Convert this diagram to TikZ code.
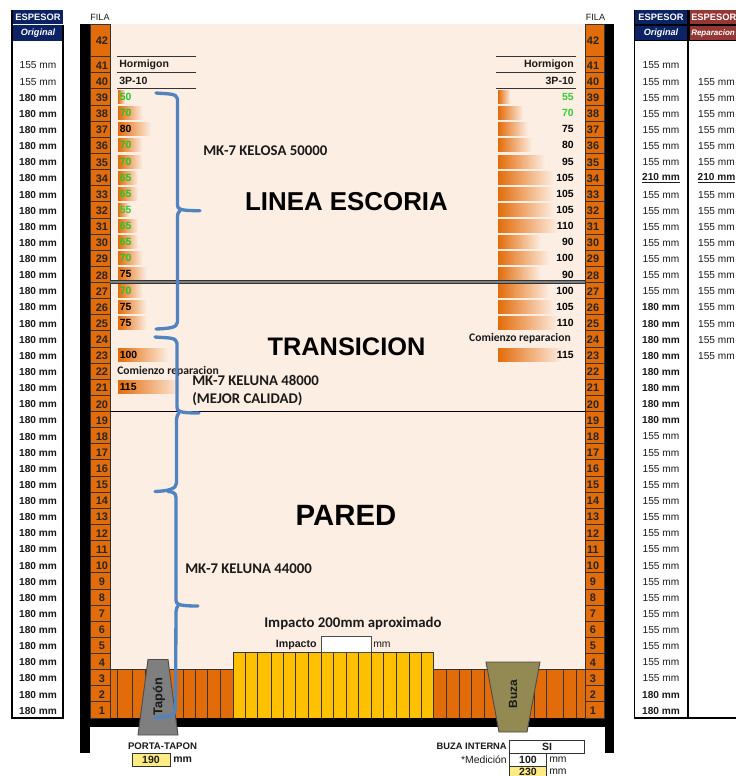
\documentclass[tikz,border=0pt]{standalone}
\usepackage{fontspec}
\setmainfont{Liberation Sans}
\newfontfamily\calib{Carlito}
\definecolor{peach}{HTML}{FDEEE3}
\definecolor{orng}{HTML}{E36C0A}
\definecolor{yell}{HTML}{FFC000}
\definecolor{navy}{HTML}{0B2264}
\definecolor{redh}{HTML}{953735}
\definecolor{bluebr}{HTML}{5083C0}
\definecolor{inbox}{HTML}{FFEB84}
\definecolor{grn}{HTML}{22C522}
\definecolor{lgrn}{HTML}{33CC33}
\definecolor{taupe}{HTML}{938953}
\definecolor{gry}{HTML}{7F7F7F}
\definecolor{ink}{HTML}{1A1A1A}
\tikzset{
  x=0.75pt,y=-0.75pt,
  cell/.style={draw=black!80,line width=0.7pt,fill=orng},
  rownum/.style={font=\fontsize{8.2}{8}\selectfont\bfseries,text=black!85,inner sep=0pt},
  thk/.style={font=\fontsize{7.6}{8}\selectfont,text=ink,inner sep=0pt},
  thkb/.style={font=\fontsize{7.6}{8}\selectfont\bfseries,text=ink,inner sep=0pt},
  hdr/.style={font=\fontsize{7}{8}\selectfont\bfseries,text=white,inner sep=0pt},
  hdri/.style={font=\fontsize{6.8}{8}\selectfont\bfseries\itshape,text=white,inner sep=0pt},
  val/.style={font=\fontsize{7.8}{8}\selectfont\bfseries,inner sep=0pt},
  smallb/.style={font=\fontsize{7.9}{8}\selectfont\bfseries,text=ink,inner sep=0pt},
  small/.style={font=\fontsize{7.8}{8}\selectfont,text=ink,inner sep=0pt},
  title/.style={font=\fontsize{19.4}{22}\selectfont\bfseries,text=black,inner sep=0pt},
  tag/.style={font=\calib\fontsize{11.1}{12}\selectfont\bfseries,text=ink,inner sep=0pt},
  comi/.style={font=\calib\fontsize{8.7}{9}\selectfont\bfseries,text=ink,inner sep=0pt},
  brace/.style={draw=bluebr,line width=2.5pt,line cap=round,line join=round},
  rule/.style={draw=black!80,line width=0.9pt},
  floorline/.style={draw=black!80,line width=0.7pt},
  tbl/.style={draw=black,line width=1.4pt},
}
\newcommand{\rowy}[1]{\pgfmathsetmacro\ry{97+(39-#1)*16.13}}
\newcommand{\txty}[1]{\pgfmathsetmacro\ty{97.8+(39-#1)*16.13}}
\begin{document}
\begin{tikzpicture}
\useasboundingbox (0,0) rectangle (736,776);
\clip (0,0) rectangle (736,776);
% interior
\fill[peach] (110,24) rectangle (585,669);
% floor
\fill[orng] (110,669) rectangle (233,718);
\fill[orng] (433,669) rectangle (585,718);
\fill[yell] (233,652) rectangle (433,718);
\draw[floorline] (110,669) -- (233,669) (433,669) -- (585,669);
\draw[floorline] (233,718) -- (233,652) -- (434,652);
\foreach \x in {117,132,145,183,195,207,220,446,459,471,484,534,546,563,576}
  \draw[floorline] (\x,669) -- (\x,718);
\foreach \x in {245,257,271,283,295,308,321,333,346,358,371,383,396,409,421,433}
  \draw[floorline] (\x,652) -- (\x,718);
% row columns
\fill[black] (80,24) rectangle (90,753);
\fill[black] (604.5,24) rectangle (614,753);
\fill[black] (80,718) rectangle (614,727);
\draw[cell] (90,24) rectangle (110,56.5);
\draw[cell] (585,24) rectangle (604,56.5);
\node[rownum] (ln42) at (102,41) {42};
\node[rownum] (rn42) at (593,41) {42};
\foreach \n in {1,...,41}{
  \rowy{\n}\txty{\n}
  \draw[cell] (90,\ry-8.06) rectangle (110,\ry+8.06);
  \draw[cell] (585,\ry-8.06) rectangle (604,\ry+8.06);
  \node[rownum] (ln\n) at (102,\ty) {\n};
  \node[rownum] (rn\n) at (593,\ty) {\n};
}
\node[small,font=\fontsize{6.8}{8}\selectfont] (filaL) at (100,17) {FILA};
\node[small,font=\fontsize{6.8}{8}\selectfont] (filaR) at (595.5,17) {FILA};
% left table
\fill[navy] (12,10) rectangle (63,24);
\fill[navy] (12,25) rectangle (63,41);
\draw[tbl] (12,10) -- (12,718) -- (63,718) -- (63,25);
\node[hdr] (espL) at (38,17) {ESPESOR};
\node[hdri] (oriL) at (38,33) {Original};
\foreach \n in {40,41}{\txty{\n}\node[thk] (tl\n) at (38,\ty) {155 mm};}
\foreach \n in {1,...,39}{\txty{\n}\node[thkb] (tl\n) at (38,\ty) {180 mm};}
% right table
\fill[black] (634,10) rectangle (736,41);
\fill[navy] (635,10) rectangle (687,24);
\fill[navy] (635,26) rectangle (687,40);
\fill[redh] (689.5,10) rectangle (736,24);
\fill[redh] (689.5,26) rectangle (736,40);
\draw[tbl] (634.5,10) -- (634.5,718) -- (736,718);
\draw[tbl] (687.8,41) -- (687.8,718);
\node[hdr] (espA) at (661,17) {ESPESOR};
\node[hdri] (oriA) at (661,33) {Original};
\node[hdr,anchor=west] (espB) at (691,17) {ESPESOR};
\node[hdri,font=\fontsize{6}{8}\selectfont\bfseries\itshape,anchor=west] (repB) at (691,33) {Reparacion};
% right table col A
\foreach \n in {3,...,18,27,28,...,33,35,36,...,41}{\txty{\n}\node[thk] (ta\n) at (661,\ty) {155 mm};}
\foreach \n in {1,2,19,20,...,26}{\txty{\n}\node[thkb] (ta\n) at (661,\ty) {180 mm};}
\txty{34}\node[thkb] (ta34) at (661,\ty) {\underline{210 mm}};
% right table col B
\foreach \n in {23,...,33,35,36,...,40}{\txty{\n}\node[thk] (tb\n) at (716.5,\ty) {155 mm};}
\txty{34}\node[thkb] (tb34) at (716.5,\ty) {\underline{210 mm}};
% header rules and Hormigon blocks
\draw[rule] (117,56.5) -- (196,56.5) (117,72.6) -- (196,72.6) (117,88.8) -- (196,88.8);
\draw[rule] (496,56.5) -- (576,56.5) (496,72.6) -- (576,72.6) (496,88.8) -- (576,88.8);
\rowy{41}\node[smallb,anchor=west] (hormL) at (119,\ry) {Hormigon};
\node[smallb,anchor=east] (hormR) at (574,\ry) {Hormigon};
\rowy{40}\node[smallb,anchor=west] (tpL) at (119,\ry) {3P-10};
\node[smallb,anchor=east] (tpR) at (574,\ry) {3P-10};
% left bars
\foreach \n/\v/\c in {39/50/grn,38/70/grn,37/80/black,36/70/grn,35/70/grn,34/65/grn,33/65/grn,32/55/lgrn,31/65/grn,30/65/grn,29/70/grn,28/75/black,27/70/grn,26/75/black,25/75/black,23/100/black,21/115/black}{
  \rowy{\n}
  \pgfmathsetmacro\w{0.87*(\v-42)}
  \shade[left color=orng,right color=peach] (118,\ry-6.5) rectangle (118+\w,\ry+6.5);
  \node[val,text=\c,anchor=west] (vl\n) at (119.5,\ry) {\v};
}
% right bars
\foreach \n/\v/\c in {39/55/lgrn,38/70/lgrn,37/75/black,36/80/black,35/95/black,34/105/black,33/105/black,32/105/black,31/110/black,30/90/black,29/100/black,28/90/black,27/100/black,26/105/black,25/110/black,23/115/black}{
  \rowy{\n}
  \pgfmathsetmacro\w{0.87*(\v-41)}
  \shade[left color=orng,right color=peach] (498,\ry-6.5) rectangle (498+\w,\ry+6.5);
  \node[val,text=\c,anchor=east] (vr\n) at (574,\ry) {\v};
}
% horizontal dividers
\draw[draw=black!80,line width=2.6pt] (110,282) -- (585,282);
\draw[draw=gry,line width=1.6pt] (110,282) -- (585,282);
\draw[draw=black,line width=1.2pt] (110,411.5) -- (585,411.5);
% labels
\rowy{22}\node[comi,anchor=west] (comL) at (117,\ry) {Comienzo reparacion};
\node[comi,anchor=east] (comR) at (571,338) {Comienzo reparacion};
\node[title] (linea) at (346.5,201.5) {LINEA ESCORIA};
\node[title,font=\fontsize{19}{22}\selectfont\bfseries] (trans) at (346.5,346.5) {TRANSICION};
\node[title,font=\fontsize{22}{24}\selectfont\bfseries] (pared) at (346,515) {PARED};
\node[tag,anchor=west] (kelosa) at (203,150.5) {MK-7 KELOSA 50000};
\node[tag,anchor=west] (kel48) at (192,380) {MK-7 KELUNA 48000};
\node[tag,anchor=west] (calid) at (192,399) {(MEJOR CALIDAD)};
\node[tag,anchor=west] (kel44) at (185,568.5) {MK-7 KELUNA 44000};
\node[tag,anchor=west] (imp) at (264,623.5) {Impacto 200mm aproximado};
\node[smallb,anchor=east,font=\fontsize{8}{8}\selectfont\bfseries] (impl) at (317,645) {Impacto};
\draw[draw=black!70,line width=0.7pt,fill=white] (321,636) rectangle (371,652);
\node[small,anchor=west] (impmm) at (373,645) {mm};
% Tapon and Buza
\draw[draw=black!70,line width=0.7pt,fill=gry] (148,659.5) -- (168,659.5) -- (178,735) -- (138,735) -- cycle;
\node[rotate=90,font=\fontsize{9.6}{9}\selectfont\bfseries,text=ink,inner sep=0pt] (tapon) at (159,696.5) {Tapón};
\draw[draw=black!70,line width=0.7pt,fill=taupe] (486,662) -- (540,662) -- (527,732) -- (499,732) -- cycle;
\node[rotate=90,font=\fontsize{8.9}{9}\selectfont\bfseries,text=ink,inner sep=0pt] (buza) at (513,694) {Buza};
% braces
\draw[brace] (156,93) .. controls (166,94) and (177.5,93) .. (177.5,99) -- (177.5,205) .. controls (177.5,209) and (179,210.7) .. (200,210.7);
\draw[brace] (180,210.7) .. controls (179,211.5) and (177.5,213) .. (177.5,217) -- (177.5,322) .. controls (177.5,328) and (168,328.5) .. (156,329);
\draw[brace] (155,337) .. controls (166,338) and (177,337) .. (177,343) -- (177,407) .. controls (177,411) and (178,413) .. (199,413);
\draw[brace] (179,413) .. controls (178,414) and (177,415) .. (176.5,420) -- (176.5,483) .. controls (176.5,489) and (168,491) .. (155,491.5);
\draw[brace] (168,491.5) .. controls (172,492) and (176,492) .. (176,498) -- (176,600) .. controls (176,604) and (177,606) .. (198,606);
\draw[brace] (178,606) .. controls (177,607) and (176,609) .. (176,612) -- (175.5,710) .. controls (175.5,716) and (168,717) .. (155,717.5);
% bottom labels
\node[smallb,font=\fontsize{7.2}{8}\selectfont\bfseries] (porta) at (162.5,746) {PORTA-TAPON};
\draw[draw=black!80,line width=0.7pt,fill=inbox] (132,753) rectangle (170,766);
\node[smallb] (v190) at (151,759.5) {190};
\node[smallb,anchor=west] (mm190) at (173,759.5) {mm};
\node[smallb,font=\fontsize{7}{8}\selectfont\bfseries,anchor=east] (buzai) at (507,746.5) {BUZA INTERNA};
\draw[draw=black!80,line width=0.7pt,fill=white] (509.5,740) rectangle (584.5,753);
\node[smallb] (si) at (547,746.5) {SI};
\node[small,anchor=east] (medi) at (507,759.5) {*Medición};
\draw[draw=black!80,line width=0.7pt,fill=white] (509.5,753) rectangle (546,766);
\node[smallb] (v100) at (528,759.5) {100};
\node[small,anchor=west] (mm100) at (549,759.5) {mm};
\draw[draw=black!80,line width=0.7pt,fill=inbox] (509.5,766) rectangle (546,780);
\node[smallb] (v230) at (528,772) {230};
\node[small,anchor=west] (mm230) at (549,772) {mm};
\end{tikzpicture}
\end{document}
